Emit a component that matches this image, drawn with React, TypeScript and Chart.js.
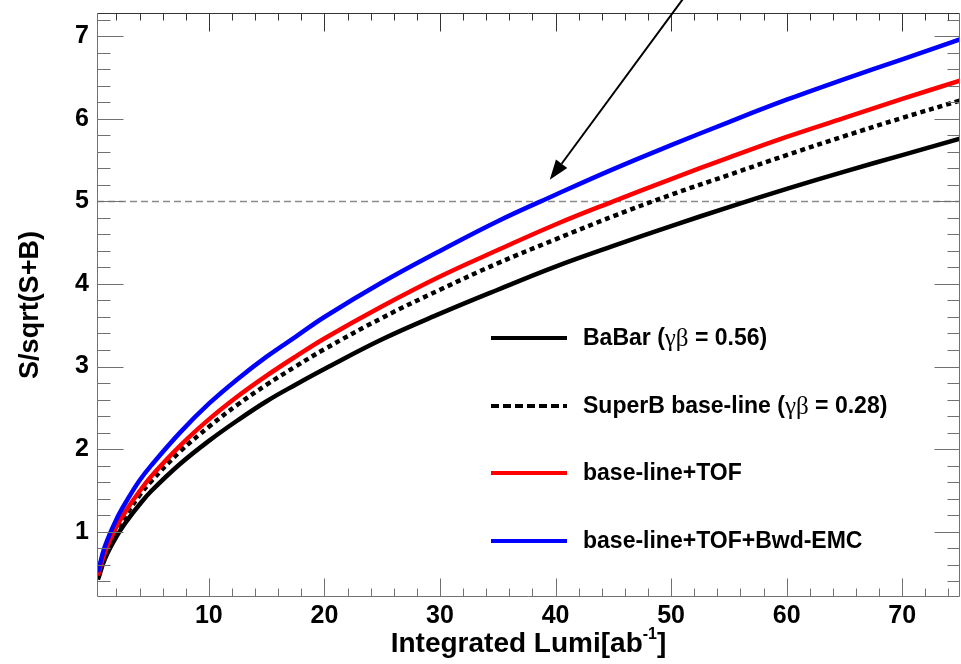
import React, { useEffect, useRef } from "react";
import { Chart, registerables } from "chart.js";

Chart.register(...registerables);

// ---------------- data ----------------
const LUMI = [0.4, 1, 2, 3, 4, 5, 7.5, 10, 12.5, 15, 17.5, 20, 25, 30, 35, 40, 45, 50, 55, 60, 65, 70, 75];
const BABAR = [0.42, 0.67, 0.94, 1.15, 1.33, 1.49, 1.82, 2.1, 2.35, 2.58, 2.78, 2.97, 3.33, 3.64, 3.93, 4.21, 4.46, 4.7, 4.93, 5.15, 5.36, 5.56, 5.76];
const SUPERB = [0.45, 0.72, 1.02, 1.24, 1.44, 1.61, 1.97, 2.27, 2.54, 2.78, 3.0, 3.21, 3.59, 3.93, 4.25, 4.54, 4.82, 5.08, 5.32, 5.56, 5.79, 6.01, 6.22];
const TOF = [0.47, 0.75, 1.06, 1.29, 1.49, 1.67, 2.04, 2.36, 2.64, 2.89, 3.12, 3.34, 3.73, 4.09, 4.41, 4.72, 5.0, 5.27, 5.53, 5.78, 6.01, 6.24, 6.46];
const TOF_EMC = [0.51, 0.82, 1.15, 1.4, 1.62, 1.8, 2.2, 2.55, 2.85, 3.12, 3.36, 3.6, 4.02, 4.4, 4.76, 5.08, 5.39, 5.68, 5.96, 6.23, 6.48, 6.72, 6.96];

const SERIES_LABELS = ["BaBar (γβ = 0.56)", "SuperB base-line (γβ = 0.28)", "base-line+TOF", "base-line+TOF+Bwd-EMC"];

const X_TICKS = [10, 20, 30, 40, 50, 60, 70];
const Y_TICKS = [1, 2, 3, 4, 5, 6, 7];
const X_RANGE = [0.32, 75];
const Y_RANGE = [0.21, 7.28];
const REF_LEVEL = 5;
const ARROW_FROM = [51.0, 7.445];
const ARROW_TO = [39.5, 5.26];

const X_TITLE = "Integrated Lumi[ab";
const X_TITLE_SUP = "-1";
const Y_TITLE = "S/sqrt(S+B)";

// ---------------- styling ----------------
const SANS = "'Liberation Sans', Arial, Helvetica, sans-serif";
const SERIF = "'Liberation Serif', 'DejaVu Serif', serif";
const AXIS_GREY = "#707070";

const STYLES = [
  { color: "#000000", dash: [] as number[], order: 3 },
  { color: "#000000", dash: [5, 4], order: 2 },
  { color: "#ff0000", dash: [] as number[], order: 1 },
  { color: "#0000ff", dash: [] as number[], order: 0 },
];
const SERIES = [BABAR, SUPERB, TOF, TOF_EMC];

function drawRich(ctx: CanvasRenderingContext2D, text: string, x: number, y: number) {
  const parts = text.split("γβ");
  let cx = x;
  parts.forEach((p, i) => {
    ctx.font = `bold 23px ${SANS}`;
    ctx.fillText(p, cx, y);
    cx += ctx.measureText(p).width;
    if (i < parts.length - 1) {
      ctx.font = `25px ${SERIF}`;
      ctx.fillText("γβ", cx, y);
      cx += ctx.measureText("γβ").width;
    }
  });
}

const rootPlugin = {
  id: "rootStyle",
  beforeDatasetsDraw(chart: any) {
    const { ctx, chartArea: a, scales } = chart;
    const py = Math.round(scales.y.getPixelForValue(REF_LEVEL)) + 0.5;
    ctx.save();
    ctx.strokeStyle = "#8a8a8a";
    ctx.lineWidth = 1.3;
    ctx.setLineDash([7, 4]);
    ctx.beginPath();
    ctx.moveTo(a.left, py);
    ctx.lineTo(a.right, py);
    ctx.stroke();
    ctx.restore();
  },
  afterDatasetsDraw(chart: any) {
    const { ctx, chartArea: a, scales } = chart;
    const { x, y } = scales;
    const L = Math.round(a.left) + 0.5;
    const R = Math.round(a.right) - 0.5;
    const T = Math.round(a.top) + 0.5;
    const B = Math.round(a.bottom) - 0.5;
    ctx.save();
    ctx.setLineDash([]);
    ctx.lineWidth = 1;
    ctx.strokeStyle = AXIS_GREY;
    ctx.beginPath();
    ctx.moveTo(L, T); ctx.lineTo(L, B); ctx.lineTo(R, B); ctx.lineTo(R, T);
    ctx.stroke();
    ctx.strokeStyle = "#333";
    ctx.beginPath();
    ctx.moveTo(L, T); ctx.lineTo(R, T);
    ctx.stroke();
    for (let k = 1; k <= 40; k++) {
      const v = k * 0.2;
      if (v < Y_RANGE[0] || v > Y_RANGE[1]) continue;
      const major = k % 5 === 0;
      const p = Math.round(y.getPixelForValue(v)) + 0.5;
      ctx.strokeStyle = AXIS_GREY;
      ctx.beginPath();
      ctx.moveTo(L, p); ctx.lineTo(L + (major ? 26 : 13), p);
      ctx.moveTo(R, p); ctx.lineTo(R - (major ? 25 : 12), p);
      ctx.stroke();
    }
    for (let k = 1; k <= 40; k++) {
      const v = k * 2;
      if (v < X_RANGE[0] || v > X_RANGE[1]) continue;
      const major = v % 10 === 0;
      const p = Math.round(x.getPixelForValue(v)) + 0.5;
      ctx.strokeStyle = AXIS_GREY;
      ctx.beginPath();
      ctx.moveTo(p, B); ctx.lineTo(p, B - (major ? 18 : 8));
      ctx.stroke();
      ctx.strokeStyle = "#333";
      ctx.beginPath();
      ctx.moveTo(p, T); ctx.lineTo(p, T + (major ? 18 : 7));
      ctx.stroke();
    }
    ctx.restore();
  },
  afterDraw(chart: any) {
    const { ctx, chartArea: a, scales } = chart;
    const { x, y } = scales;
    ctx.save();
    // arrow
    const x0 = x.getPixelForValue(ARROW_FROM[0]);
    const y0 = y.getPixelForValue(ARROW_FROM[1]);
    const x1 = x.getPixelForValue(ARROW_TO[0]);
    const y1 = y.getPixelForValue(ARROW_TO[1]);
    const ang = Math.atan2(y1 - y0, x1 - x0);
    const head = 20, hw = 7;
    const bx = x1 - head * Math.cos(ang);
    const by = y1 - head * Math.sin(ang);
    ctx.strokeStyle = "#000";
    ctx.fillStyle = "#000";
    ctx.lineWidth = 2;
    ctx.beginPath();
    ctx.moveTo(x0, y0); ctx.lineTo(bx, by);
    ctx.stroke();
    ctx.beginPath();
    ctx.moveTo(x1, y1);
    ctx.lineTo(bx + hw * Math.sin(ang), by - hw * Math.cos(ang));
    ctx.lineTo(bx - hw * Math.sin(ang), by + hw * Math.cos(ang));
    ctx.closePath();
    ctx.fill();

    // legend
    const lx0 = a.left + 394, lx1 = a.left + 470, tx = a.left + 486;
    const ly0 = a.top + 325, gap = 67.7;
    chart.data.datasets.forEach((ds: any, i: number) => {
      const ly = Math.round(ly0 + gap * i);
      ctx.strokeStyle = ds.borderColor;
      ctx.lineWidth = 4;
      ctx.setLineDash(i === 1 ? [8, 4] : []);
      ctx.beginPath();
      ctx.moveTo(lx0, ly); ctx.lineTo(lx1, ly);
      ctx.stroke();
      ctx.setLineDash([]);
      ctx.fillStyle = "#000";
      ctx.textBaseline = "middle";
      ctx.textAlign = "left";
      drawRich(ctx, ds.label, tx, ly + 1);
    });

    // x title with superscript
    ctx.fillStyle = "#000";
    ctx.textBaseline = "alphabetic";
    ctx.textAlign = "left";
    const mainFont = `bold 28px ${SANS}`;
    const supFont = `bold 16px ${SANS}`;
    ctx.font = mainFont;
    const w1 = ctx.measureText(X_TITLE).width;
    const w3 = ctx.measureText("]").width;
    ctx.font = supFont;
    const w2 = ctx.measureText(X_TITLE_SUP).width;
    const total = w1 + w2 + w3;
    const cx = (a.left + a.right) / 2 - total / 2;
    const base = a.bottom + 55;
    ctx.font = mainFont;
    ctx.fillText(X_TITLE, cx, base);
    ctx.font = supFont;
    ctx.fillText(X_TITLE_SUP, cx + w1, base - 13);
    ctx.font = mainFont;
    ctx.fillText("]", cx + w1 + w2, base);
    ctx.restore();
  },
};

export default function App() {
  const ref = useRef<HTMLCanvasElement | null>(null);
  useEffect(() => {
    document.body.style.margin = "0";
    const canvas = ref.current!;
    const chart = new Chart(canvas, {
      type: "line",
      data: {
        datasets: SERIES.map((vals, i) => ({
          label: SERIES_LABELS[i],
          data: LUMI.map((l, j) => ({ x: l, y: vals[j] })),
          borderColor: STYLES[i].color,
          backgroundColor: STYLES[i].color,
          borderDash: STYLES[i].dash,
          borderWidth: 4.5,
          pointRadius: 0,
          fill: false,
          tension: 0.4,
          order: STYLES[i].order,
        })),
      },
      options: {
        responsive: false,
        animation: false,
        layout: { padding: { top: 13, right: 1, left: 0, bottom: 0 } },
        plugins: { legend: { display: false }, tooltip: { enabled: false } },
        scales: {
          x: {
            type: "linear",
            min: X_RANGE[0],
            max: X_RANGE[1],
            grid: { display: false, drawTicks: false },
            border: { display: false },
            afterBuildTicks: (s: any) => { s.ticks = X_TICKS.map((v) => ({ value: v })); },
            afterFit: (s: any) => { s.height = 67; s.paddingLeft = 0; s.paddingRight = 0; },
            ticks: {
              color: "#000",
              padding: 4,
              maxRotation: 0,
              autoSkip: false,
              font: { family: SANS, size: 25, weight: "bold" },
            },
          },
          y: {
            type: "linear",
            min: Y_RANGE[0],
            max: Y_RANGE[1],
            grid: { display: false, drawTicks: false },
            border: { display: false },
            afterBuildTicks: (s: any) => { s.ticks = Y_TICKS.map((v) => ({ value: v })); },
            afterFit: (s: any) => { s.width = 97; s.paddingTop = 0; s.paddingBottom = 0; },
            ticks: {
              color: "#000",
              padding: 8,
              font: { family: SANS, size: 25, weight: "bold" },
            },
            title: {
              display: true,
              text: Y_TITLE,
              color: "#000",
              padding: { top: 14, bottom: 0 },
              font: { family: SANS, size: 27, weight: "bold" },
            },
          },
        },
      },
      plugins: [rootPlugin],
    } as any);
    return () => chart.destroy();
  }, []);
  return (
    <div style={{ width: 961, height: 664, overflow: "hidden" }}>
      <canvas ref={ref} width={961} height={664} style={{ display: "block" }} />
    </div>
  );
}
